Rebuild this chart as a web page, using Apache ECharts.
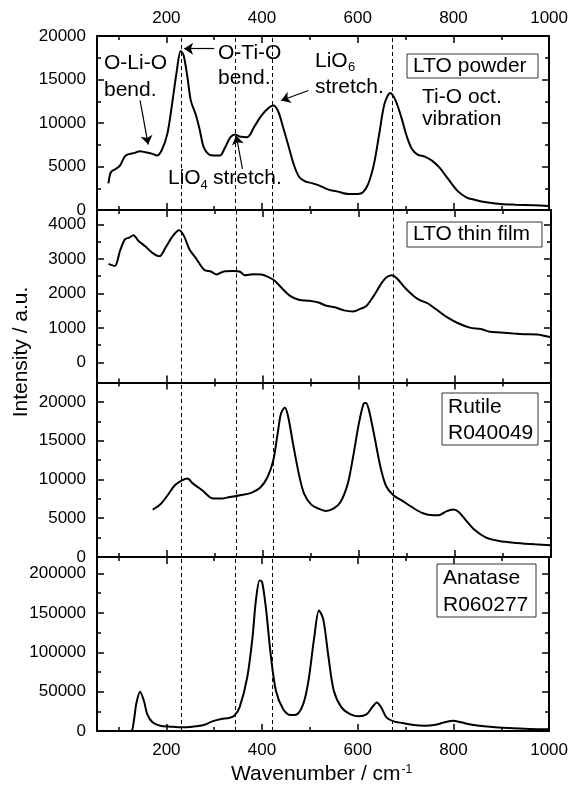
<!DOCTYPE html>
<html><head><meta charset="utf-8">
<script src="https://cdn.jsdelivr.net/npm/echarts@6/dist/echarts.min.js"></script>
<style>html,body{margin:0;padding:0;background:#fff}#c{width:571px;height:787px}</style>
</head><body><div id="c"></div>
<script>
// ---------------- DATA ----------------
const xMin = 55, xMax = 1000;
const xMajor = [200, 400, 600, 800];
const xLabels = [200, 400, 600, 800, 1000];
const xMinor = [100, 300, 500, 700, 900];
const dashX = [231, 344, 422, 672];

const panelNames = ['LTO powder', 'LTO thin film', 'Rutile\nR040049', 'Anatase\nR060277'];

const powderX = [79,84,94,103,115,134,145,156,171,180,190,202,211,221,230,236,244,251,262,270,278,289,300,312,323,334,344,353,369,384,399,414,423,433,444,456,467,478,490,505,520,539,558,581,600,611,622,634,645,656,668,679,691,702,713,725,740,755,770,789,808,827,846,869,899,930,967,1000];
const powderY = [3070,4340,4720,5100,6260,6570,6760,6640,6450,6260,6840,8750,11830,15670,18280,17780,15280,12600,10870,9140,7220,6370,6260,6260,7220,8370,8680,8450,8370,9600,10870,11750,12020,11440,9520,7220,5110,3760,3300,3070,2800,2340,2110,1840,1840,2040,3000,5300,8760,12210,13440,12600,10680,8560,7030,6370,6140,5680,4920,3570,2230,1460,1150,880,690,610,540,460];

const filmX = [79,92,103,113,122,131,141,156,171,185,198,213,226,236,247,262,278,293,304,319,338,353,362,380,397,414,425,440,456,475,497,516,531,550,569,588,604,615,630,645,657,668,679,695,710,725,744,763,785,808,831,854,873,895,922,945,971,1000];
const filmY = [2860,2800,3240,3570,3620,3690,3530,3360,3170,3080,3340,3670,3830,3670,3290,3000,2690,2630,2550,2640,2650,2630,2530,2560,2550,2460,2370,2150,1940,1820,1790,1740,1650,1600,1510,1480,1560,1630,1910,2250,2460,2530,2440,2180,1980,1820,1710,1520,1300,1130,1010,970,890,870,840,820,810,730];

const rutileX = [171,187,202,217,232,243,255,274,297,315,331,353,376,395,410,422,431,438,446,453,463,475,486,501,516,531,547,562,577,588,600,610,615,622,634,645,657,672,691,710,732,755,766,782,797,808,823,842,865,892,929,967,1000];
const rutileY = [6110,6800,7960,9250,9890,10110,9460,8600,7530,7530,7740,7960,8260,8950,10320,12470,15910,18490,19270,18060,14620,10750,8170,6750,6240,5940,6240,7100,9460,12900,17200,19780,19870,18710,15050,11610,9120,7960,7230,6450,5680,5380,5380,5890,6110,5810,4730,3440,2490,2060,1810,1630,1510];

const anataseX = [55,100,126,132,137,145,153,160,171,187,209,232,255,278,296,315,331,342,353,369,380,387,395,400,408,418,429,444,459,471,486,497,509,519,528,539,550,566,584,603,619,630,640,649,660,675,694,717,740,763,782,799,816,839,876,914,960,1000];
const anataseY = [0,0,0,13000,34200,49800,38400,21500,11000,6750,5500,4640,5500,7600,12200,15200,16500,19400,30000,68000,118600,165000,191200,189500,156600,97500,51100,27900,20300,20700,34200,63700,118600,153200,141800,93300,51100,30000,21500,18600,21500,30000,36300,30000,17300,12200,10100,7600,6750,8000,11000,13100,11000,8000,5500,3800,2500,2100];

const yMins = [0, -580, 0, 0];
const yMaxs = [20000, 4420, 22500, 221000];
const yMajors = [[0,5000,10000,15000,20000],[0,1000,2000,3000,4000],[0,5000,10000,15000,20000],[0,50000,100000,150000,200000]];
const yMinors = [[2500,7500,12500,17500],[500,1500,2500,3500],[2500,7500,12500,17500],[25000,75000,125000,175000]];

// annotation arrows (data coords): [fromX, fromY, toX, toY]
const arrows = [[145,12590,162,7520],[300,18540,237,18540],[497,13740,440,12590],[359,4720,346,8560]];

// ---------------- LAYOUT ----------------
const FONT = '"Liberation Sans", Arial, sans-serif';
const AF = 21; // annotation font size
const grids = [{top:36,h:174},{top:210,h:172.5},{top:382.5,h:174.5},{top:557,h:174}];
const series = [[powderX,powderY],[filmX,filmY],[rutileX,rutileY],[anataseX,anataseY]];
const fmt = v => String(v);

const gridOpts = [], xAxes = [], yAxes = [], seriesOpts = [];
grids.forEach((g, i) => {
  gridOpts.push({left: 97, right: 20, top: g.top, height: g.h, containLabel: false});
  [['bottom', true], ['bottom', false], ['top', true], ['top', false]].forEach(([pos, major]) => {
    const showLabel = major && ((pos === 'top' && i === 0) || (pos === 'bottom' && i === 3));
    xAxes.push({
      type: 'value', gridIndex: i, position: pos, min: xMin, max: xMax,
      axisLine: {show: major, onZero: false, lineStyle: {color: '#000', width: 2}},
      axisTick: {show: true, inside: true, length: major ? 7 : 4, customValues: major ? xMajor : xMinor, lineStyle: {color: '#000', width: 1.5}},
      axisLabel: {show: showLabel, customValues: xLabels, formatter: fmt, color: '#000', fontSize: 17, fontFamily: FONT, margin: pos === 'top' ? 9 : 11},
      splitLine: {show: false}
    });
  });
  [['left', true], ['left', false], ['right', true], ['right', false]].forEach(([pos, major]) => {
    const showLabel = major && pos === 'left';
    yAxes.push({
      type: 'value', gridIndex: i, position: pos, min: yMins[i], max: yMaxs[i],
      axisLine: {show: major, onZero: false, lineStyle: {color: '#000', width: 2}},
      axisTick: {show: true, inside: true, length: major ? 7 : 4, customValues: major ? yMajors[i] : yMinors[i], lineStyle: {color: '#000', width: 1.5}},
      axisLabel: {show: showLabel, customValues: yMajors[i], formatter: fmt, color: '#000', fontSize: 17, fontFamily: FONT, margin: 11},
      splitLine: {show: false}
    });
  });
  const [xs, ys] = series[i];
  const mlData = dashX.map(v => ({xAxis: v}));
  if (i === 0) {
    arrows.forEach(a => {
      mlData.push([
        {coord: [a[0], a[1]], symbol: 'none', lineStyle: {type: 'solid', width: 1.2, color: '#000'}},
        {coord: [a[2], a[3]], symbol: 'arrow'}
      ]);
    });
  }
  seriesOpts.push({
    type: 'line', xAxisIndex: i * 4, yAxisIndex: i * 4,
    data: xs.map((x, k) => [x, ys[k]]),
    showSymbol: false, symbol: 'none', smooth: 0.3,
    lineStyle: {color: '#000', width: 2},
    silent: true,
    markLine: {
      silent: true, symbol: ['none', 'none'], symbolSize: 9,
      label: {show: false},
      lineStyle: {color: '#000', type: [4, 3], width: 1},
      emphasis: {disabled: true},
      data: mlData
    }
  });
});

function txt(t, x, y, size, extra) {
  return Object.assign({type: 'text', x: x, y: y, silent: true,
    style: {text: t, fontSize: size, fontFamily: FONT, fill: '#000', align: 'left', verticalAlign: 'middle'}}, extra || {});
}
function box(x, y, w, h) {
  return {type: 'rect', shape: {x: x, y: y, width: w, height: h}, silent: true, style: {fill: '#fff', stroke: '#333', lineWidth: 1}};
}

const graphics = [
  // panel labels
  box(407, 54, 131, 24), txt(panelNames[0], 413, 66, AF),
  box(407, 222, 135, 25), txt(panelNames[1], 413, 234.5, AF),
  box(442, 393, 96, 52), txt('Rutile', 448, 407, AF), txt('R040049', 448, 433, AF),
  box(437, 564, 99, 53), txt('Anatase', 443, 578, AF), txt('R060277', 443, 605, AF),
  // annotations
  txt('O-Li-O', 104, 63, AF), txt('bend.', 104, 90, AF),
  txt('O-Ti-O', 218, 53, AF), txt('bend.', 218, 78, AF),
  txt('LiO', 315, 61, AF), txt('6', 348, 67, 13), txt('stretch.', 315, 87, AF),
  txt('Ti-O oct.', 422, 97, AF), txt('vibration', 422, 119, AF),
  txt('LiO', 168, 178, AF), txt('4', 200.5, 185, 13), txt('stretch.', 213, 178, AF),
  // axis titles
  {type: 'text', x: 21, y: 352, rotation: Math.PI / 2, silent: true,
   style: {text: 'Intensity / a.u.', fontSize: AF, fontFamily: FONT, fill: '#000', align: 'center', verticalAlign: 'middle'}},
  {type: 'text', x: 231, y: 774, silent: true,
   style: {text: 'Wavenumber / cm{sup|-1}', fontSize: AF, fontFamily: FONT, fill: '#000', align: 'left', verticalAlign: 'middle',
     rich: {sup: {fontSize: 12, fontFamily: FONT, fill: '#000', verticalAlign: 'top', lineHeight: 12, padding: [0, 0, 10, 1]}}}}
];

const chart = echarts.init(document.getElementById('c'), null, {renderer: 'canvas'});
chart.setOption({
  animation: false,
  backgroundColor: '#fff',
  grid: gridOpts,
  xAxis: xAxes,
  yAxis: yAxes,
  series: seriesOpts,
  graphic: graphics
});
</script></body></html>
